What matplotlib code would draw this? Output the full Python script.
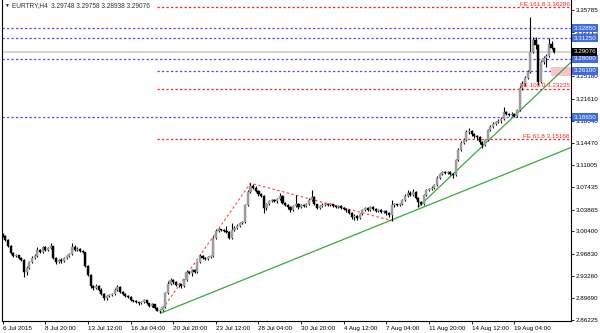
import matplotlib
matplotlib.use("Agg")
import matplotlib.pyplot as plt
import matplotlib.transforms as mtransforms
from matplotlib.patches import Rectangle

plt.rcParams['font.family'] = ['Liberation Sans', 'DejaVu Sans']

# ---------------- data ----------------
symbol_text = "EURTRY,H4  3.29748 3.29758 3.28938 3.29076"

first_open = 2.9994
last_open = 3.29748

closes = [
    2.9962, 2.9898, 2.9802, 2.9690, 2.9642, 2.9658, 2.9610, 2.9578, 2.9386, 2.9450,
    2.9546, 2.9610, 2.9642, 2.9738, 2.9706, 2.9786, 2.9738, 2.9770, 2.9802, 2.9610,
    2.9546, 2.9578, 2.9562, 2.9610, 2.9642, 2.9674, 2.9786, 2.9738, 2.9754, 2.9722,
    2.9706, 2.9482, 2.9338, 2.9162, 2.9130, 2.9162, 2.9098, 2.9034, 2.8970, 2.9002,
    2.9018, 2.9034, 2.9098, 2.9146, 2.9066, 2.9034, 2.9002, 2.8986, 2.8938, 2.8922,
    2.8906, 2.8890, 2.8906, 2.8938, 2.8890, 2.8842, 2.8874, 2.8810, 2.8762, 2.8778,
    2.8826, 2.9050, 2.9194, 2.9258, 2.9226, 2.9178, 2.9194, 2.9162, 2.9258, 2.9386,
    2.9370, 2.9418, 2.9386, 2.9546, 2.9642, 2.9610, 2.9594, 2.9626, 2.9642, 2.9930,
    3.0042, 3.0074, 3.0058, 3.0042, 3.0026, 2.9930, 3.0058, 3.0090, 3.0122, 3.0170,
    3.0186, 3.0458, 3.0666, 3.0762, 3.0730, 3.0682, 3.0634, 3.0602, 3.0410, 3.0474,
    3.0522, 3.0538, 3.0522, 3.0554, 3.0602, 3.0490, 3.0458, 3.0426, 3.0378, 3.0442,
    3.0474, 3.0426, 3.0458, 3.0442, 3.0474, 3.0538, 3.0586, 3.0474, 3.0410, 3.0442,
    3.0458, 3.0474, 3.0458, 3.0474, 3.0442, 3.0426, 3.0442, 3.0410, 3.0394, 3.0378,
    3.0330, 3.0266, 3.0282, 3.0250, 3.0314, 3.0378, 3.0410, 3.0378, 3.0426, 3.0394,
    3.0362, 3.0378, 3.0346, 3.0362, 3.0330, 3.0300, 3.0458, 3.0474, 3.0458, 3.0474,
    3.0538, 3.0602, 3.0650, 3.0618, 3.0666, 3.0570, 3.0506, 3.0474, 3.0618, 3.0698,
    3.0714, 3.0730, 3.0778, 3.0890, 3.0954, 3.0986, 3.0970, 3.0986, 3.0954, 3.0938,
    3.1178, 3.1338, 3.1450, 3.1498, 3.1626, 3.1642, 3.1594, 3.1562, 3.1546, 3.1466,
    3.1418, 3.1498, 3.1658, 3.1706, 3.1754, 3.1786, 3.1802, 3.1834, 3.1946, 3.1914,
    3.1898, 3.1914, 3.1882, 3.1978, 3.2330, 3.2394, 3.2490, 3.2586, 3.2906, 3.3098,
    3.3018, 3.2426, 3.2746, 3.2810, 3.2842, 3.3034, 3.2975, 3.29076]

highs = [
    3.0010, 2.9975, 2.9910, 2.9815, 2.9705, 2.9672, 2.9668, 2.9630, 2.9590, 2.9480,
    2.9570, 2.9640, 2.9680, 2.9790, 2.9760, 2.9810, 2.9800, 2.9785, 2.9850, 2.9810,
    2.9625, 2.9600, 2.9610, 2.9625, 2.9660, 2.9700, 2.9850, 2.9820, 2.9790, 2.9770,
    2.9740, 2.9715, 2.9495, 2.9350, 2.9180, 2.9200, 2.9190, 2.9140, 2.9050, 2.9025,
    2.9040, 2.9060, 2.9130, 2.9180, 2.9160, 2.9080, 2.9050, 2.9020, 2.9000, 2.8950,
    2.8940, 2.8915, 2.8930, 2.8960, 2.8950, 2.8900, 2.8890, 2.8885, 2.8825, 2.8800,
    2.8845, 2.9075, 2.9240, 2.9300, 2.9275, 2.9240, 2.9215, 2.9205, 2.9275, 2.9420,
    2.9405, 2.9430, 2.9430, 2.9570, 2.9680, 2.9660, 2.9625, 2.9645, 2.9660, 2.9960,
    3.0080, 3.0095, 3.0085, 3.0070, 3.0120, 3.0040, 3.0170, 3.0120, 3.0150, 3.0195,
    3.0200, 3.0480, 3.0700, 3.0810, 3.0790, 3.0760, 3.0700, 3.0650, 3.0620, 3.0500,
    3.0545, 3.0560, 3.0555, 3.0570, 3.0650, 3.0615, 3.0505, 3.0470, 3.0440, 3.0460,
    3.0620, 3.0500, 3.0475, 3.0480, 3.0500, 3.0570, 3.0700, 3.0600, 3.0485, 3.0460,
    3.0490, 3.0500, 3.0490, 3.0495, 3.0485, 3.0460, 3.0465, 3.0455, 3.0430, 3.0420,
    3.0390, 3.0345, 3.0310, 3.0300, 3.0330, 3.0400, 3.0430, 3.0425, 3.0450, 3.0440,
    3.0410, 3.0400, 3.0390, 3.0380, 3.0375, 3.0350, 3.0540, 3.0490, 3.0485, 3.0500,
    3.0560, 3.0630, 3.0700, 3.0680, 3.0720, 3.0680, 3.0590, 3.0520, 3.0640, 3.0720,
    3.0740, 3.0760, 3.0800, 3.0920, 3.0980, 3.1010, 3.1000, 3.1005, 3.1000, 3.0970,
    3.1200, 3.1380, 3.1480, 3.1530, 3.1660, 3.1700, 3.1660, 3.1610, 3.1580, 3.1560,
    3.1480, 3.1520, 3.1680, 3.1740, 3.1790, 3.1810, 3.1830, 3.1860, 3.2030, 3.1970,
    3.1935, 3.1940, 3.1930, 3.2000, 3.2360, 3.2440, 3.2520, 3.2620, 3.3466, 3.3150,
    3.3150, 3.3030, 3.2780, 3.2840, 3.2870, 3.3130, 3.3080, 3.29758]

lows = [
    2.9950, 2.9885, 2.9790, 2.9675, 2.9630, 2.9630, 2.9600, 2.9565, 2.9310, 2.9340,
    2.9430, 2.9530, 2.9595, 2.9630, 2.9690, 2.9695, 2.9720, 2.9725, 2.9760, 2.9595,
    2.9520, 2.9530, 2.9540, 2.9550, 2.9600, 2.9630, 2.9660, 2.9720, 2.9725, 2.9705,
    2.9690, 2.9470, 2.9320, 2.9140, 2.9110, 2.9115, 2.9085, 2.9020, 2.8940, 2.8950,
    2.8985, 2.9000, 2.9020, 2.9085, 2.9050, 2.9020, 2.8985, 2.8970, 2.8925, 2.8905,
    2.8890, 2.8870, 2.8880, 2.8895, 2.8875, 2.8830, 2.8830, 2.8795, 2.8760, 2.8738,
    2.8770, 2.8815, 2.9035, 2.9180, 2.9200, 2.9160, 2.9150, 2.9140, 2.9150, 2.9245,
    2.9350, 2.9330, 2.9370, 2.9375, 2.9530, 2.9595, 2.9575, 2.9580, 2.9610, 2.9630,
    2.9915, 3.0030, 3.0040, 3.0025, 3.0010, 2.9910, 2.9920, 3.0040, 3.0075, 3.0110,
    3.0150, 3.0175, 3.0440, 3.0650, 3.0710, 3.0665, 3.0610, 3.0585, 3.0330, 3.0380,
    3.0460, 3.0505, 3.0505, 3.0500, 3.0540, 3.0470, 3.0440, 3.0405, 3.0350, 3.0365,
    3.0430, 3.0400, 3.0410, 3.0425, 3.0430, 3.0460, 3.0520, 3.0455, 3.0390, 3.0395,
    3.0430, 3.0445, 3.0440, 3.0445, 3.0425, 3.0410, 3.0415, 3.0390, 3.0380, 3.0355,
    3.0310, 3.0240, 3.0220, 3.0225, 3.0235, 3.0300, 3.0365, 3.0360, 3.0365, 3.0380,
    3.0345, 3.0350, 3.0330, 3.0330, 3.0300, 3.0270, 3.0212, 3.0430, 3.0440, 3.0450,
    3.0460, 3.0525, 3.0590, 3.0600, 3.0600, 3.0550, 3.0430, 3.0455, 3.0460, 3.0600,
    3.0680, 3.0695, 3.0710, 3.0765, 3.0875, 3.0940, 3.0955, 3.0950, 3.0935, 3.0890,
    3.0925, 3.1160, 3.1320, 3.1430, 3.1480, 3.1600, 3.1570, 3.1540, 3.1500, 3.1440,
    3.1370, 3.1400, 3.1480, 3.1640, 3.1690, 3.1740, 3.1770, 3.1780, 3.1820, 3.1895,
    3.1880, 3.1880, 3.1865, 3.1870, 3.1965, 3.2300, 3.2370, 3.2470, 3.2570, 3.2890,
    3.2960, 3.2380, 3.2410, 3.2720, 3.2660, 3.2820, 3.2950, 3.28938]

opens = [first_open] + closes[:-1]
opens[-1] = last_open

xtick_bars = [0, 16, 32, 48, 64, 80, 96, 112, 128, 144, 160, 176, 192]
xtick_labels = ["6 Jul 2015", "8 Jul 20:00", "13 Jul 12:00", "16 Jul 04:00",
                "20 Jul 20:00", "23 Jul 12:00", "28 Jul 04:00", "30 Jul 20:00",
                "4 Aug 12:00", "7 Aug 04:00", "11 Aug 20:00", "14 Aug 12:00",
                "19 Aug 04:00"]
ytick_values = [3.35785, 3.32215, 3.25180, 3.21610, 3.18040, 3.14470,
                3.11005, 3.07435, 3.03865, 3.00400, 2.96830, 2.93260, 2.89690, 2.86225]

blue_levels = [3.32850, 3.31250, 3.28000, 3.26100, 3.18650]
blue_starts = [None, None, None, 58, None]
current_price = 3.29076

fe_levels = [3.36286, 3.23235, 3.15168]
fe_labels = ["FE 161.8 3.36286", "FE 100.0 3.23235", "FE 61.8 3.15168"]
fe_start = 58

zigzag_x = [59, 93, 146]
zigzag_y = [2.8738, 3.0810, 3.0212]

trend_long_x = [59.5, 213.3]
trend_long_y = [2.8735, 3.1380]
trend_steep_x = [156, 213.3]
trend_steep_y = [3.0430, 3.2744]

zone_x = [205.8, 213.3]
zone_y = [3.2527, 3.2671]

# ---------------- figure ----------------
fig = plt.figure(figsize=(6, 3.33), dpi=100)
ax = fig.add_axes([2 / 600, 12 / 333, 569 / 600, 321 / 333])
XMIN, XMAX = -0.26, 213.3
ax.set_xlim(XMIN, XMAX)
ax.set_ylim(2.86065, 3.37385)

BLUE = '#4a4aff'
RED = '#ff2020'
GREEN = '#3aa83a'

# horizontal levels
ax.axhline(current_price, color='#d6d6d6', lw=1.6, zorder=1)
for lvl, st in zip(blue_levels, blue_starts):
    x0 = XMIN if st is None else st
    ax.plot([x0, XMAX], [lvl, lvl], color=BLUE, lw=0.9, ls=(0, (1.8, 1.8)), zorder=1)
for lvl, lab in zip(fe_levels, fe_labels):
    ax.plot([fe_start, XMAX], [lvl, lvl], color=RED, lw=0.9, ls=(0, (1.8, 1.8)), zorder=1)
    ax.text(XMAX - 0.5, lvl + 0.0003, lab, color=RED, fontsize=4.5,
            ha='right', va='bottom', zorder=6)

# pink zone
ax.add_patch(Rectangle((zone_x[0], zone_y[0]), zone_x[1] - zone_x[0],
                       zone_y[1] - zone_y[0], facecolor='#f8c3cc',
                       edgecolor='none', zorder=1))

# trend lines
ax.plot(trend_long_x, trend_long_y, color=GREEN, lw=0.9, zorder=2)
ax.plot(trend_steep_x, trend_steep_y, color=GREEN, lw=0.9, zorder=2)
ax.plot(zigzag_x, zigzag_y, color='#ff4040', lw=0.8, ls=(0, (2.2, 2.2)), zorder=2)

# candles
n = len(closes)
xs = list(range(n))
ax.vlines(xs, lows, highs, colors='black', lw=0.8, zorder=3)
for i in range(n):
    o, c = opens[i], closes[i]
    up = c >= o
    col = '#9c9c9c' if up else 'black'
    h = abs(c - o)
    ax.bar(i, max(h, 0.0004), bottom=min(o, c), width=0.8, color=col,
           edgecolor=col, lw=0.3, zorder=4)

# axes styling
ax.spines['top'].set_visible(False)
for s in ['left', 'right', 'bottom']:
    ax.spines[s].set_linewidth(0.8)
    ax.spines[s].set_color('black')

ax.yaxis.tick_right()
ax.set_yticks(ytick_values)
ax.set_yticklabels([f"{v:.5f}" for v in ytick_values])
ax.tick_params(axis='y', direction='out', length=2.5, width=0.6, pad=1,
               labelsize=4.5, colors='black')
ax.set_xticks(xtick_bars)
ax.set_xticklabels(xtick_labels, ha='left')
ax.tick_params(axis='x', direction='out', length=2.5, width=0.6, pad=1,
               labelsize=4.5, colors='black')
for lab in ax.get_xticklabels():
    lab.set_horizontalalignment('left')

trans = mtransforms.blended_transform_factory(ax.transAxes, ax.transData)
for lvl in blue_levels:
    ax.text(1.004, lvl, f"{lvl:.5f}", transform=trans, fontsize=4.5, color='white',
            ha='left', va='center', clip_on=False, zorder=10,
            bbox=dict(boxstyle='square,pad=0.25', fc='#3f6ae0', ec='none'))
ax.text(1.004, current_price, f"{current_price:.5f}", transform=trans, fontsize=4.5,
        color='white', ha='left', va='center', clip_on=False, zorder=10,
        bbox=dict(boxstyle='square,pad=0.25', fc='black', ec='none'))

# header
ax.text(0.004, 0.982, "▼", transform=ax.transAxes, fontsize=3.5, color='#202020',
        ha='left', va='center')
ax.text(0.017, 0.982, symbol_text, transform=ax.transAxes, fontsize=4.7,
        color='#303030', ha='left', va='center')

fig.savefig("out.png", dpi=100)
